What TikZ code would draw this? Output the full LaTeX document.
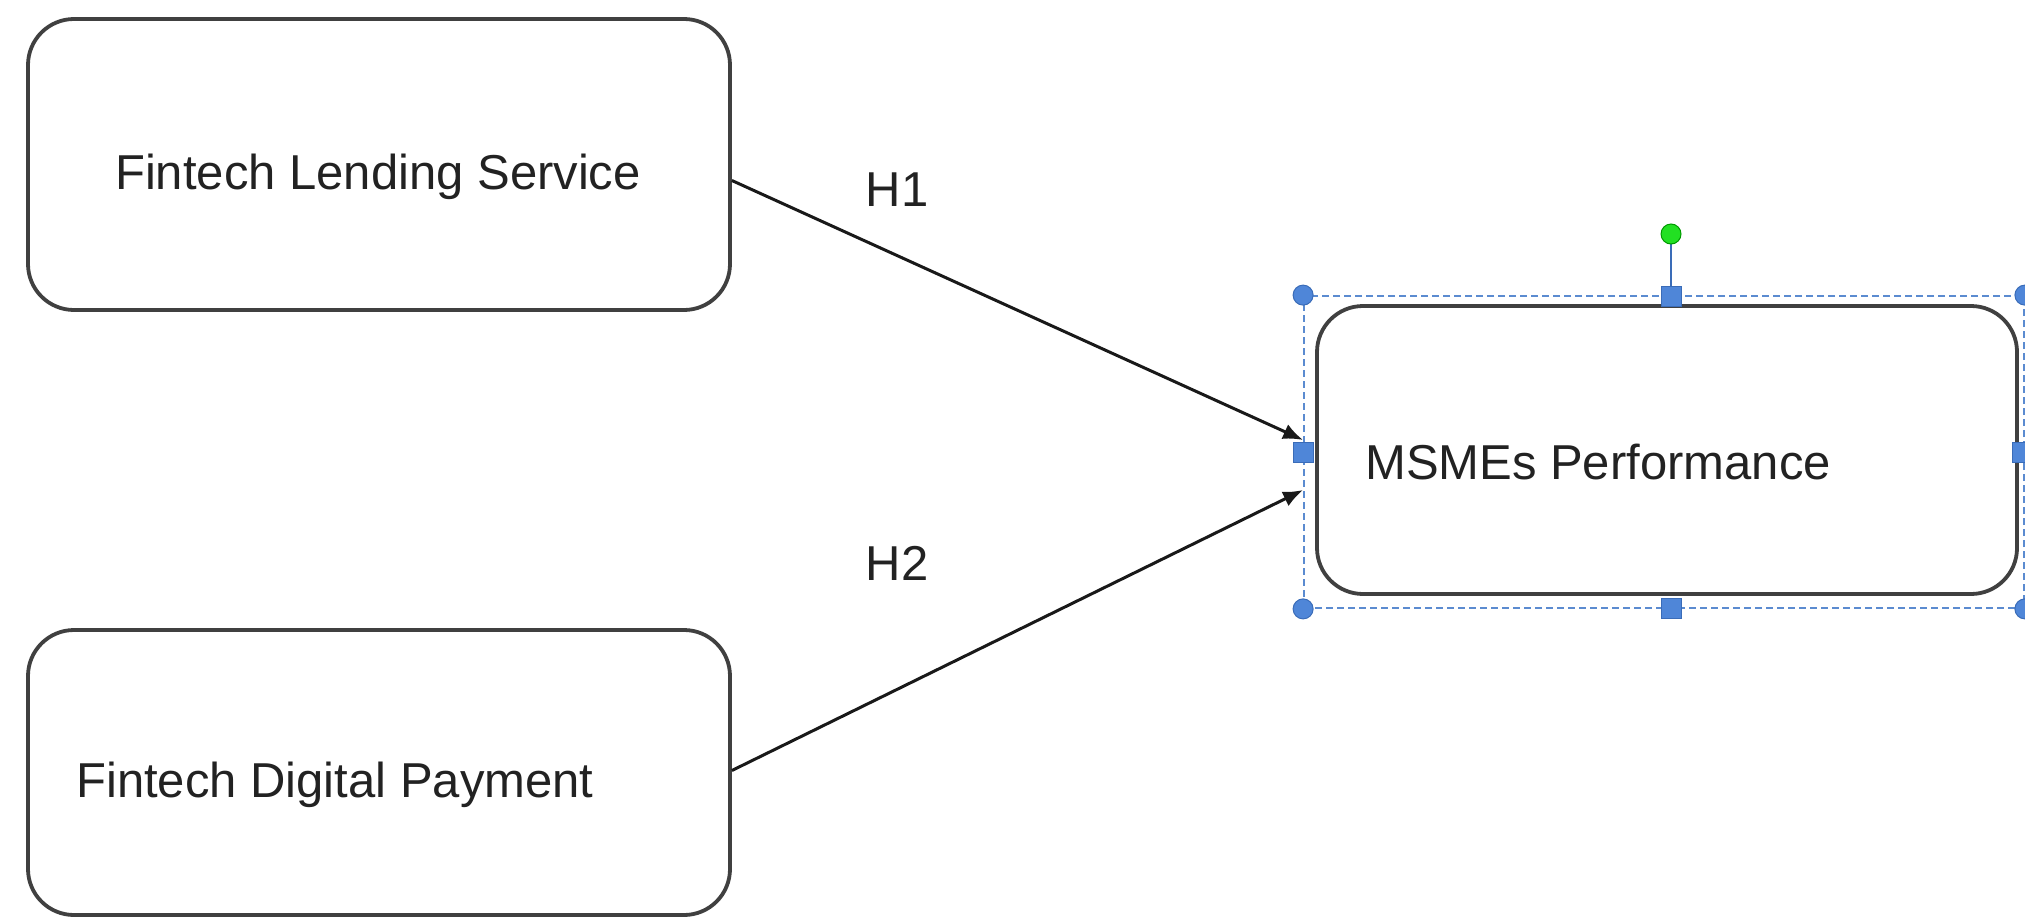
\documentclass[tikz,border=0pt]{standalone}
\usepackage{fontspec}
\setmainfont{Liberation Sans}
\usetikzlibrary{arrows.meta,calc}
\definecolor{boxline}{HTML}{404040}
\definecolor{selblue}{HTML}{5B8BD0}
\definecolor{handle}{HTML}{4F86D8}
\definecolor{handleline}{HTML}{3A6CB8}
\definecolor{grn}{HTML}{22E022}
\definecolor{txt}{HTML}{222222}
\tikzset{
  box/.style={draw=boxline, line width=3.8pt, rounded corners=46pt, fill=white, inner sep=0pt},
  lbl/.style={font=\fontsize{49}{55}\selectfont, text=txt, inner sep=0pt},
  conn/.style={draw=black!90, line width=3pt, -{Latex[length=20pt,width=16pt]}},
  selbox/.style={draw=selblue, line width=1.8pt, dash pattern=on 7pt off 4pt, inner sep=0pt},
  sqh/.style={draw=handleline, fill=handle, line width=1pt, minimum size=20pt, inner sep=0pt},
  rdh/.style={circle, draw=handleline, fill=handle, line width=1pt, minimum size=20pt, inner sep=0pt},
}
\begin{document}
\begin{tikzpicture}[x=1pt,y=-1pt]
\useasboundingbox (0,0) rectangle (2025,918);
% boxes
\node[box, minimum width=702pt, minimum height=291pt] (b1) at (379,164.5) {};
\node[box, minimum width=702pt, minimum height=285pt] (b2) at (379,772.5) {};
\node[box, minimum width=700pt, minimum height=288pt] (b3) at (1667,450) {};
% texts
\node[lbl] (t1) at (378,177) {Fintech Lending Service};
\node[lbl, anchor=west] (t2) at (76,785) {Fintech Digital Payment};
\node[lbl, anchor=west] (t3) at (1365,462) {MSMEs Performance};
% selection frame
\node[selbox, minimum width=720pt, minimum height=312pt] (sel) at (1664,452) {};
\coordinate (rot) at (1671,234);
\draw[draw=handleline, line width=1.8pt] (rot) -- (1671,296);
\node[circle, draw=green!60!black, fill=grn, line width=1pt, minimum size=20pt, inner sep=0pt] (rotc) at (rot) {};
\node[rdh] (hnw) at (sel.north west) {};
\node[rdh] (hsw) at (sel.south west) {};
\node[rdh] (hne) at (sel.north east) {};
\node[rdh] (hse) at (sel.south east) {};
\node[sqh] (hn) at (1671,296) {};
\node[sqh] (hs) at (1671,608) {};
\node[sqh] (hw) at (sel.west) {};
\node[sqh] (he) at ($(sel.east)+(-2,0)$) {};
% connectors
\draw[conn] ($(b1.east)+(0,16)$) -- ($(sel.west)+(0,-12)$);
\draw[conn] ($(b2.east)+(0,-2)$) -- ($(sel.west)+(0,38)$);
\node[lbl] (h1) at (897,190) {H1};
\node[lbl] (h2) at (897,563) {H2};
\end{tikzpicture}
\end{document}
